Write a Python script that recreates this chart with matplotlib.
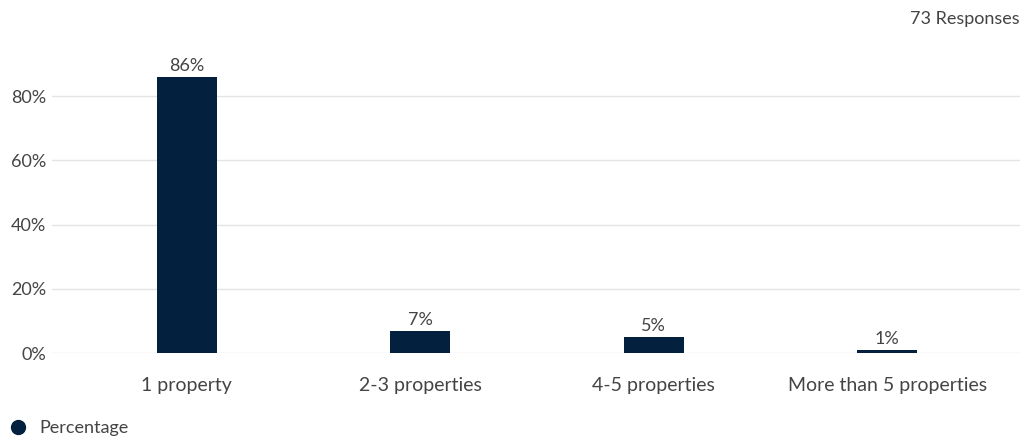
import matplotlib
matplotlib.use("Agg")
import matplotlib.pyplot as plt
from matplotlib.lines import Line2D
from matplotlib.ticker import FuncFormatter

categories = ["1 property", "2-3 properties", "4-5 properties", "More than 5 properties"]
percentages = [86, 7, 5, 1]
y_ticks = [0, 20, 40, 60, 80]
series_name = "Percentage"
responses_label = "73 Responses"

BAR_COLOR = "#03203f"
TEXT_COLOR = "#444444"
GRID_COLOR = "#e4e4e4"

plt.rcParams["font.family"] = ["Lato", "DejaVu Sans"]

fig = plt.figure(figsize=(10.31, 4.42), dpi=100)
ax = fig.add_axes([52 / 1031, (442 - 353) / 442, (1020 - 52) / 1031, 321 / 442])

x = list(range(len(categories)))
ax.bar(x, percentages, width=0.257, color=BAR_COLOR, zorder=3)

for xi, v in zip(x, percentages):
    ax.text(xi, v + 0.8, f"{v}%", ha="center", va="bottom",
            fontsize=13, color=TEXT_COLOR)

ax.set_ylim(0, 100)
ax.set_xlim(-0.5 - 18 / 233.5, 3.5 + 16 / 233.5)
ax.set_yticks(y_ticks)
ax.yaxis.set_major_formatter(FuncFormatter(lambda v, _: f"{v:.0f}%"))
ax.set_xticks(x)
ax.set_xticklabels(categories)

ax.grid(axis="y", color=GRID_COLOR, linewidth=1, zorder=0)
for s in ax.spines.values():
    s.set_visible(False)
ax.tick_params(axis="both", length=0, colors=TEXT_COLOR)
ax.tick_params(axis="y", labelsize=13, pad=4)
ax.tick_params(axis="x", labelsize=14, pad=17)

fig.text(1020 / 1031, 1 - 19 / 442, responses_label, ha="right", va="center",
         fontsize=13, color=TEXT_COLOR)

handle = Line2D([], [], marker="o", linestyle="none", markersize=10,
                markerfacecolor=BAR_COLOR, markeredgecolor=BAR_COLOR)
fig.legend([handle], [series_name], loc="center left",
           bbox_to_anchor=(9 / 1031, 1 - 428 / 442), frameon=False,
           fontsize=13, labelcolor=TEXT_COLOR, handletextpad=0.7,
           handlelength=1.0, borderaxespad=0, borderpad=0)

fig.savefig("out.png", dpi=100, facecolor="white")
